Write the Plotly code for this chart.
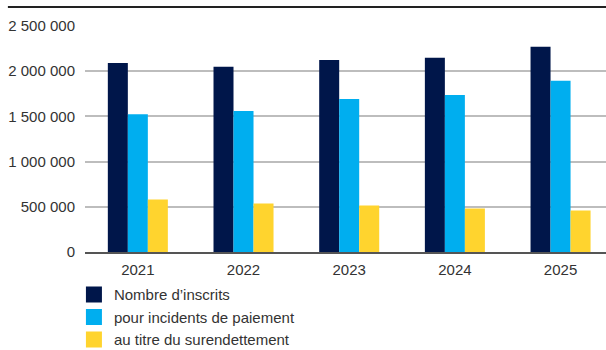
import plotly.graph_objects as go

years = ["2021", "2022", "2023", "2024", "2025"]
inscrits = [2092000, 2048000, 2125000, 2148000, 2270000]
incidents = [1525000, 1559000, 1692000, 1737000, 1895000]
surendettement = [581000, 537000, 514000, 481000, 459000]
series_names = ["Nombre d\u2019inscrits", "pour incidents de paiement", "au titre du surendettement"]
colors = ["#00164A", "#00AEEF", "#FFD42E"]
ytick_vals = [0, 500000, 1000000, 1500000, 2000000, 2500000]

fig = go.Figure()
for name, vals, col in zip(series_names, [inscrits, incidents, surendettement], colors):
    fig.add_trace(go.Bar(x=years, y=vals, name=name, marker_color=col,
                         marker_line_width=0, showlegend=False))
    fig.add_trace(go.Scatter(x=[None], y=[None], mode="markers", name=name,
                             marker=dict(symbol="square", size=16, color=col)))

fig.update_layout(
    width=606, height=350,
    margin=dict(l=85, r=0, t=26, b=98, autoexpand=False),
    paper_bgcolor="white", plot_bgcolor="white",
    barmode="group", bargap=0.432, bargroupgap=0,
    separators=", ",
    font=dict(family="Liberation Sans, Arial, sans-serif", size=15, color="#333333"),
    xaxis=dict(type="category", range=[-0.5, 4.43], showline=True, linecolor="#555555", linewidth=1.5,
               showgrid=False, ticks="", ticklabelstandoff=3, automargin=False),
    yaxis=dict(range=[0, 2500000], tickvals=ytick_vals, tickformat=",d",
               showgrid=True, gridcolor="#BDBDBD", gridwidth=1.5, zeroline=False,
               ticks="", ticklabelstandoff=9, automargin=False),
    legend=dict(xref="container", yref="container", x=0.122, xanchor="left", y=0.205, yanchor="top",
                orientation="v",
                font=dict(family="Liberation Sans, Arial, sans-serif", size=15, color="#333333"),
                tracegroupgap=0, itemsizing="trace", bgcolor="rgba(0,0,0,0)"),
    shapes=[dict(type="line", xref="paper", yref="paper", x0=-0.148, x1=1.0, y0=1.084, y1=1.084,
                 line=dict(color="#222222", width=2))],
)

fig.write_html("out.html", config={"displayModeBar": False},
               post_script="document.body.style.margin='0';document.body.style.padding='0';")
